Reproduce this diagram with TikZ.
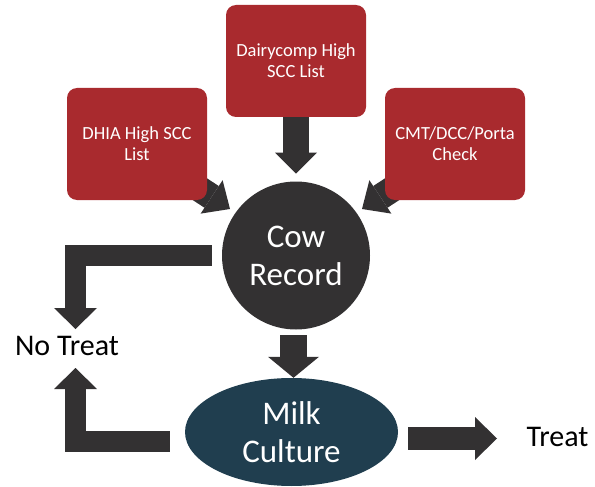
\documentclass[tikz,border=0pt]{standalone}
\usepackage{fontspec}
\setmainfont{Carlito}
\usetikzlibrary{arrows.meta,shapes.geometric,calc,backgrounds}
\definecolor{boxred}{RGB}{169,42,46}
\definecolor{darkg}{RGB}{51,49,50}
\definecolor{tealdk}{RGB}{32,62,79}
\begin{document}
\begin{tikzpicture}[x=1pt,y=-1pt,
  srcbox/.style={fill=boxred, rounded corners=10pt, minimum width=140pt, minimum height=112pt,
    text=white, font=\fontsize{18.5}{21}\selectfont, align=center, inner sep=0pt},
  bignode/.style={text=white, font=\fontsize{33}{38}\selectfont, align=center, inner sep=0pt},
  lbl/.style={font=\fontsize{30}{36}\selectfont, inner sep=0pt},
  blk/.style n args={3}{draw=darkg, line width=#1, line join=miter, line cap=butt,
    -{Triangle[width=#2,length=#3,line width=0pt]}},
]
\useasboundingbox (0,0) rectangle (595,487);
% nodes
\node[srcbox] (dhia) at (137,144) {DHIA High SCC\\List};
\node[srcbox] (dc) at (296,61) {Dairycomp High\\SCC List};
\node[srcbox] (cmt) at (455,144) {CMT/DCC/Porta\\Check};
\node[bignode, circle, fill=darkg, minimum size=148pt] (cow) at (296,255.5) {Cow\\Record};
\node[bignode, ellipse, fill=tealdk, minimum width=213pt, minimum height=108pt] (milk) at (291.5,432) {Milk\\Culture};
\node[lbl] (notreat) at (67,346) {No Treat};
\node[lbl] (treat) at (557.5,437) {Treat};
\coordinate (ntTop) at (75.5,329);
\coordinate (ntBot) at (75.5,368);
\coordinate (trTip) at (497,438.5);
% connectors
\begin{scope}[on background layer]
\draw[blk={26pt}{42pt}{21pt}] (dc.south) -- ($(cow.north)+(0,-7.7)$);
\draw[blk={26pt}{40pt}{22pt}] ($(dhia.south east)+(-24,-22)$) -- ($(cow.center)+(-66,-46.5)$);
\draw[blk={26pt}{40pt}{22pt}] ($(cmt.south west)+(24,-22)$) -- ($(cow.center)+(66,-46.5)$);
\draw[blk={27pt}{51pt}{21pt}] ($(cow.south)+(-2.5,5.5)$) -- ($(milk.north)+(2,0)$);
\draw[blk={21pt}{43pt}{21pt}] ($(cow.west)+(-10,0)$) -| (ntTop);
\draw[blk={21pt}{43pt}{21pt}] ($(milk.west)+(-15,9.5)$) -| (ntBot);
\draw[blk={23pt}{43pt}{22pt}] ($(milk.east)+(10,6.5)$) -- (trTip);
\end{scope}
\end{tikzpicture}
\end{document}
